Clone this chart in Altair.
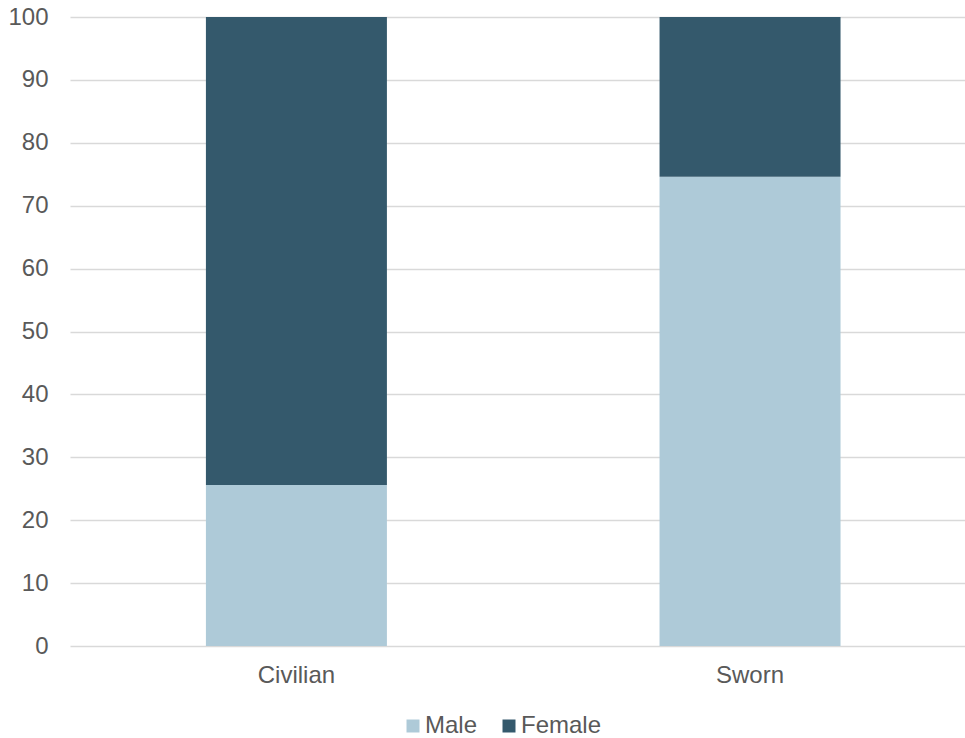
import altair as alt
import pandas as pd

categories = ["Civilian", "Sworn"]
male = [25.6, 74.6]
female = [74.4, 25.4]
series = ["Male", "Female"]
colors = ["#AECAD8", "#34596C"]
y_ticks = [0, 10, 20, 30, 40, 50, 60, 70, 80, 90, 100]

rows = []
for i, c in enumerate(categories):
    rows.append({"category": c, "sex": "Male", "value": male[i], "ord": 0})
    rows.append({"category": c, "sex": "Female", "value": female[i], "ord": 1})
df = pd.DataFrame(rows)

FONT = "Liberation Sans"
GREY = "#595959"
FS = 24

chart = alt.Chart(df).mark_bar().encode(
    x=alt.X("category:N", sort=categories, title=None,
            scale=alt.Scale(paddingInner=0.601, paddingOuter=0.287, align=0.522),
            axis=alt.Axis(labelAngle=0, labelFont=FONT, labelFontSize=FS, labelColor=GREY,
                          labelPadding=17, ticks=False, domain=False, grid=False)),
    y=alt.Y("value:Q", stack="zero", title=None,
            scale=alt.Scale(domain=[0, 100], nice=False),
            axis=alt.Axis(values=y_ticks, labelFont=FONT, labelFontSize=FS, labelColor=GREY,
                          labelPadding=22, ticks=False, domain=False, grid=True,
                          gridColor="#D9D9D9", gridWidth=1.3)),
    color=alt.Color("sex:N", sort=series, title=None,
                    scale=alt.Scale(domain=series, range=colors),
                    legend=alt.Legend(orient="none", legendX=331, legendY=697, direction="horizontal",
                                      symbolType="square", symbolSize=169, symbolStrokeWidth=0,
                                      labelFont=FONT, labelFontSize=FS, labelColor=GREY,
                                      labelOffset=0, columnPadding=19, padding=0)),
    order=alt.Order("ord:Q", sort="ascending"),
).properties(
    width=895, height=629,
    autosize=alt.AutoSizeParams(type="none"),
    padding={"left": 70, "top": 17, "right": 0, "bottom": 92},
).configure(background="white").configure_view(stroke=None)

chart.save("out.html", embed_options={"renderer": "svg", "actions": False})
